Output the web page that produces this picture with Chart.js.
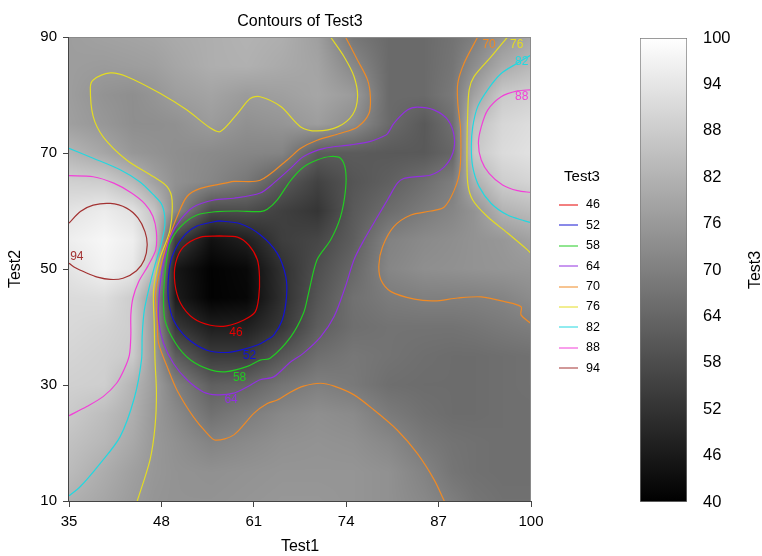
<!DOCTYPE html>
<html>
<head>
<meta charset="utf-8">
<title>Contours of Test3</title>
<script src="https://cdn.jsdelivr.net/npm/chart.js@4.4.1/dist/chart.umd.min.js"></script>
<style>
  html, body { margin: 0; padding: 0; background: #fff; }
  #wrap { position: relative; width: 762px; height: 556px; }
  #mainBox { position: absolute; left: 0; top: 0; width: 640px; height: 556px; }
  #barBox { position: absolute; left: 640px; top: 0; width: 122px; height: 556px; }
</style>
</head>
<body>
<div id="wrap">
  <div id="mainBox"><canvas id="contourChart"></canvas></div>
  <div id="barBox"><canvas id="scaleChart"></canvas></div>
</div>
<script>
// grid of Test3 (rows go from Test2 = 90 down to 10)
const gridX = [35, 40, 44, 47, 50, 55, 60, 65, 70, 75, 80, 85, 89, 92, 96, 100];
const gridY = [90, 85, 80, 75, 70, 65, 60, 55, 50, 45, 40, 35, 30, 25, 20, 15, 10];
const test3Grid = [
  [77, 78, 78.5, 79, 80, 81, 82, 81, 77.5, 68, 65, 65, 67, 69.5, 75, 79],
  [77, 76.5, 77, 77.5, 79, 81, 81.5, 80, 78.5, 72, 65, 65, 67.5, 73, 80, 83.5],
  [77, 74.5, 73.5, 75, 77, 78.5, 76.5, 77.5, 79, 76.5, 65, 65, 68.5, 78, 87.5, 89],
  [77.5, 75.5, 73.5, 73.5, 74, 76.5, 74, 75, 77, 73, 65, 61, 66, 85, 90.5, 92],
  [82.5, 79, 75.5, 74.5, 73.5, 72.5, 71.5, 71, 61.5, 61.5, 61, 61, 64, 87, 91.5, 93],
  [89, 88.2, 83.5, 78, 74, 71.5, 68, 61, 55.5, 60, 62.5, 66, 69.5, 81, 88.3, 90],
  [93.5, 95.5, 93, 86, 72, 57.5, 58, 55, 52.5, 61, 65.5, 69, 71.5, 74.5, 82, 84],
  [96, 98, 96, 88, 55, 44, 47.5, 54.5, 56.5, 62, 70.5, 72.5, 73.5, 74.5, 75.5, 78],
  [93.5, 97, 94.5, 84, 45.5, 40.5, 42, 51.5, 58.5, 64.3, 71.5, 73.5, 74, 74.5, 75, 75.5],
  [91.5, 92, 88, 76, 46.5, 40.5, 41.5, 51, 60, 66.5, 69, 70, 70, 70.2, 71, 73],
  [91, 90, 88.3, 76, 53, 47, 47.5, 53, 62, 66, 67, 67, 67, 67.5, 68.5, 69.5],
  [90, 89, 87.5, 76.5, 62, 54, 54, 60.5, 66, 68, 67, 66, 65.5, 65.5, 66, 66.5],
  [89, 88.5, 82.5, 77, 70, 62.5, 63.5, 67.5, 70, 68.5, 66, 65.5, 65.5, 65.5, 66, 66.5],
  [87.5, 84.5, 81, 76, 72.5, 66.5, 69.2, 72, 73.5, 72.5, 68.8, 66.5, 65.5, 65.5, 66, 66],
  [85.5, 83, 79.5, 75.8, 74, 71, 72.5, 74, 74.5, 74, 72, 68.5, 67, 66.5, 66, 66],
  [84, 80.5, 77.5, 75.5, 74.5, 74, 74.5, 75, 75, 75, 74, 70.8, 67.5, 66.5, 66, 66],
  [81.5, 79, 76.5, 75, 74.5, 74.5, 75, 75.5, 75.5, 75, 74, 72, 69.5, 67.5, 66.5, 66.5]
];

const levels = [46, 52, 58, 64, 70, 76, 82, 88, 94];
const lineColors = ['#e60000', '#1414d2', '#22cc22', '#9230e0', '#ef8a25', '#e4dc22', '#22d8e0', '#f23fd8', '#a33232'];

// contour lines as [Test1, Test2]; null separates pieces
const c46 = [[56.1,55.7],[58.7,55.5],[60.3,54.1],[61.5,51.6],[61.8,48.7],[61.7,45.2],[61.2,42.6],[59.6,41.2],[57.2,40.2],[54.9,40.3],[52.5,41.5],[50.7,44.1],[49.9,47.5],[50.0,51.0],[51.1,53.8],[53.5,55.5],[56.1,55.7]];
const c52 = [[56.1,58.3],[59.1,57.8],[61.9,55.9],[64.3,52.7],[65.5,48.7],[65.6,45.2],[65.0,41.2],[63.8,38.6],[62.6,37.6],[61.5,36.9],[59.1,36.0],[57.2,35.6],[54.4,36.0],[51.6,38.1],[49.7,41.2],[49.0,44.7],[49.0,48.7],[49.5,52.1],[50.9,55.3],[53.0,57.4],[56.1,58.3]];
const c58 = [[48.6,50.4],[49.2,54.4],[50.7,57.3],[53.0,59.3],[55.8,59.9],[58.7,60.0],[61.9,59.9],[62.9,60.3],[64.3,61.9],[66.2,65.3],[68.0,67.6],[69.9,68.8],[71.8,69.4],[73.2,69.1],[73.9,67.1],[73.9,63.6],[73.2,59.0],[71.8,55.0],[69.9,51.6],[68.7,45.8],[68.0,42.4],[66.2,38.3],[63.3,34.6],[61.9,34.3],[60.1,33.2],[57.2,32.3],[54.9,32.6],[52.1,34.3],[50.0,37.2],[48.5,41.2],[48.3,45.8],[48.6,50.4]];
const c64 = [[48.4,51.6],[49.3,55.6],[50.7,58.5],[52.5,60.7],[55.4,61.9],[58.2,62.2],[61.9,63.1],[63.8,64.8],[66.2,67.4],[68.0,69.4],[70.9,70.8],[74.6,71.4],[77.4,72.0],[79.1,72.8],[79.8,73.3],[80.7,75.1],[82.6,77.4],[84.0,77.9],[86.4,77.4],[88.3,75.7],[89.2,72.8],[89.0,70.0],[87.8,67.6],[85.9,66.2],[83.6,65.9],[82.1,65.6],[81.2,64.8],[79.8,61.9],[78.4,59.0],[76.5,55.0],[75.1,51.6],[73.9,47.0],[72.3,41.8],[70.4,38.3],[68.0,35.5],[66.2,34.0],[63.8,31.4],[61.9,30.9],[60.1,29.7],[58.2,28.6],[55.8,28.3],[53.9,28.8],[51.6,30.9],[49.7,33.7],[48.3,37.2],[47.6,41.2],[47.7,45.8],[48.1,49.8],[48.4,51.6]];
const c70 = [[73.9,90],[75.6,86.0],[77.0,82.6],[77.4,79.7],[77.2,76.8],[75.6,74.5],[73.2,73.4],[69.9,72.2],[67.6,70.8],[65.7,68.8],[61.9,65.3],[58.2,65.1],[57.0,64.8],[53.5,63.9],[51.6,62.5],[50.2,59.0],[48.8,54.4],[48.0,51.0],[47.2,45.8],[47.4,41.2],[47.6,37.2],[48.8,33.2],[50.2,29.1],[52.5,24.5],[54.4,21.7],[55.6,20.5],[58.2,21.4],[61.0,25.1],[62.9,26.8],[64.3,27.4],[66.2,28.8],[68.0,29.8],[70.4,30.3],[72.3,29.8],[75.1,28.3],[77.9,25.7],[81.2,22.2],[84.0,18.2],[86.4,13.6],[87.8,10],
  null,
  [92.5,90],[90.6,85.5],[89.7,82.0],[89.7,78.6],[90.1,74.0],[90.0,67.1],[89.2,63.6],[87.8,60.7],[85.9,60.0],[83.1,59.3],[80.7,57.3],[79.1,53.8],[78.6,50.7],[78.9,48.1],[80.3,46.1],[83.6,44.8],[86.4,44.5],[89.7,45.0],[93.0,45.2],[96.2,44.4],[98.6,43.5],[98.6,42.1],[100,40.6]];
const c76 = [[71.8,90],[73.7,86.6],[75.1,83.2],[75.6,79.7],[74.9,76.6],[72.8,74.5],[69.9,73.8],[67.6,74.5],[64.8,78.0],[61.9,79.7],[60.5,79.4],[58.7,76.8],[56.3,73.7],[54.9,74.3],[51.6,77.4],[47.8,80.3],[43.1,83.2],[40.8,83.8],[38.4,82.6],[38.0,81.2],[38.4,76.3],[39.8,72.8],[43.1,68.8],[46.9,65.9],[48.8,64.2],[49.5,61.9],[49.2,56.7],[47.7,51.5],[46.9,46.4],[47.0,40.3],[47.1,34.3],[47.3,28.6],[47.1,22.8],[46.4,17.1],[44.6,10],
  null,
  [96.7,90],[94.4,86.6],[92.0,83.2],[91.3,80.9],[91.1,76.8],[91.0,71.1],[91.1,64.8],[91.8,61.9],[93.9,59.0],[96.7,56.2],[99.5,53.3],[100,52.7]];
const c82 = [[35,70.8],[38.4,69.1],[42.2,67.1],[45.0,65.0],[46.8,62.9],[48.1,61.0],[48.5,57.9],[48.0,54.5],[47.1,50.7],[46.3,46.9],[45.6,42.9],[45.3,38.6],[45.2,34.3],[44.2,27.8],[42.2,21.1],[39.4,16.5],[36.6,12.5],[35,10.9],
  null,
  [100,86.9],[98.1,85.5],[95.8,83.7],[93.9,80.9],[92.5,78.0],[91.8,74.5],[91.6,71.1],[91.8,67.6],[92.7,64.2],[94.4,61.3],[96.7,59.3],[99.1,58.3],[100,58.0]];
const c88 = [[35,66.1],[38.4,65.9],[41.3,64.8],[43.8,63.1],[45.7,61.2],[46.8,59.1],[47.3,56.4],[47.2,53.3],[46.1,50.5],[44.8,47.8],[44.0,45.0],[43.7,42.1],[43.7,38.6],[43.5,35.2],[42.8,32.8],[41.7,30.3],[39.8,28.0],[37.5,26.3],[35,24.7],
  null,
  [100,80.9],[98.1,80.7],[95.8,79.7],[93.9,77.4],[93.0,74.5],[92.6,71.7],[93.0,68.8],[94.1,66.5],[96.0,64.5],[98.1,63.5],[100,63.2]];
const c94 = [[35,57.9],[36.6,59.9],[38.4,61.0],[40.8,61.3],[43.1,60.5],[44.7,58.8],[45.7,56.4],[46.0,54.1],[45.6,51.6],[44.5,49.7],[42.6,48.4],[40.8,48.2],[39.0,48.6],[37.5,49.3],[35.9,50.2],[35,51.0]];

// where each level's value is written on the map
const labelX = [58.5, 60.4, 59.0, 57.8, 94.1, 98.0, 98.7, 98.7, 36.1];
const labelY = [39.0, 35.0, 31.2, 27.4, 88.6, 88.6, 85.7, 79.7, 52.1];

const xTickValues = [35, 48, 61, 74, 87, 100];
const yTickValues = [10, 30, 50, 70, 90];
const barTickValues = [40, 46, 52, 58, 64, 70, 76, 82, 88, 94, 100];
const colorMin = 40, colorMax = 100;

const FONT = "'Liberation Sans', Arial, sans-serif";
Chart.defaults.font.family = FONT;
Chart.defaults.color = '#000';

function bracket(arr, v) {
    for (let i = 0; i < arr.length - 1; i++) {
        const t = (v - arr[i]) / (arr[i + 1] - arr[i]);
        if (t >= 0 && t <= 1) return [i, t];
    }
    return (Math.abs(v - arr[0]) < Math.abs(v - arr[arr.length - 1])) ? [0, 0] : [arr.length - 2, 1];
}

function sampleGrid(x, y) {
    const [i, tx] = bracket(gridX, x);
    const [j, ty] = bracket(gridY, y);
    const a = test3Grid[j][i], b = test3Grid[j][i + 1];
    const c = test3Grid[j + 1][i], d = test3Grid[j + 1][i + 1];
    return (a * (1 - tx) + b * tx) * (1 - ty) + (c * (1 - tx) + d * tx) * ty;
}

// grey shading under the contour lines
const heatPlugin = {
    id: 'heat',
    beforeDatasetsDraw(chart) {
        const { ctx, chartArea: area, scales: { x, y } } = chart;
        const w = Math.round(area.right - area.left);
        const h = Math.round(area.bottom - area.top);
        const off = document.createElement('canvas');
        off.width = w;
        off.height = h;
        const octx = off.getContext('2d');
        const img = octx.createImageData(w, h);
        for (let j = 0; j < h; j++) {
            const vy = y.getValueForPixel(area.top + j + 0.5);
            for (let i = 0; i < w; i++) {
                const vx = x.getValueForPixel(area.left + i + 0.5);
                const v = sampleGrid(vx, vy);
                let g = Math.round((v - colorMin) / (colorMax - colorMin) * 255);
                g = Math.max(0, Math.min(255, g));
                const k = (j * w + i) * 4;
                img.data[k] = g;
                img.data[k + 1] = g;
                img.data[k + 2] = g;
                img.data[k + 3] = 255;
            }
        }
        octx.putImageData(img, 0, 0);
        ctx.drawImage(off, area.left, area.top);
    }
};

// frame, level labels and the legend
const decorPlugin = {
    id: 'decor',
    afterDatasetsDraw(chart) {
        const { ctx, chartArea: a, scales: { x, y } } = chart;
        ctx.save();
        ctx.font = '12px ' + FONT;
        ctx.textAlign = 'center';
        ctx.textBaseline = 'middle';
        levels.forEach((lv, i) => {
            ctx.fillStyle = lineColors[i];
            ctx.fillText(String(lv), x.getPixelForValue(labelX[i]), y.getPixelForValue(labelY[i]));
        });
        ctx.lineWidth = 1;
        ctx.strokeStyle = '#8a8a8a';
        ctx.beginPath();
        ctx.moveTo(a.left, a.top + 0.5);
        ctx.lineTo(a.right, a.top + 0.5);
        ctx.moveTo(a.right - 0.5, a.top);
        ctx.lineTo(a.right - 0.5, a.bottom);
        ctx.stroke();
        ctx.strokeStyle = '#444';
        ctx.beginPath();
        ctx.moveTo(a.left - 0.5, a.top);
        ctx.lineTo(a.left - 0.5, a.bottom + 0.5);
        ctx.lineTo(a.right, a.bottom + 0.5);
        ctx.stroke();
        ctx.restore();
    },
    afterDraw(chart) {
        const { ctx } = chart;
        ctx.save();
        ctx.fillStyle = '#000';
        ctx.font = '15px ' + FONT;
        ctx.textAlign = 'center';
        ctx.textBaseline = 'middle';
        ctx.fillText('Test3', 582, 177);
        ctx.font = '12.5px ' + FONT;
        ctx.textAlign = 'left';
        chart.data.datasets.forEach((ds, i) => {
            const ly = 205 + i * 20.4;
            ctx.strokeStyle = ds.borderColor;
            ctx.lineWidth = 1;
            ctx.beginPath();
            ctx.moveTo(559, Math.round(ly));
            ctx.lineTo(578, Math.round(ly));
            ctx.stroke();
            ctx.fillStyle = '#000';
            ctx.fillText(ds.label, 586, ly);
        });
        ctx.restore();
    }
};

const contourSets = [c46, c52, c58, c64, c70, c76, c82, c88, c94];
const datasets = levels.map((lv, i) => ({
    label: String(lv),
    data: contourSets[i].map(p => p ? { x: p[0], y: p[1] } : { x: null, y: null }),
    showLine: true,
    borderColor: lineColors[i],
    backgroundColor: lineColors[i],
    borderWidth: 1.2,
    pointRadius: 0,
    pointHoverRadius: 0,
    tension: 0.3,
    fill: false
}));

new Chart(document.getElementById('contourChart'), {
    type: 'scatter',
    data: { datasets: datasets },
    options: {
        responsive: true,
        maintainAspectRatio: false,
        animation: false,
        devicePixelRatio: 1,
        layout: { padding: { left: 0, top: 0, right: 109, bottom: 0 } },
        plugins: {
            legend: { display: false },
            tooltip: { enabled: false },
            title: {
                display: true,
                fullSize: false,
                text: 'Contours of Test3',
                color: '#000',
                font: { size: 16, weight: 'normal' },
                padding: { top: 11.5, bottom: 6.3 }
            }
        },
        scales: {
            x: {
                type: 'linear',
                min: 35,
                max: 100,
                afterBuildTicks: s => { s.ticks = xTickValues.map(v => ({ value: v })); },
                afterFit: s => { s.height = 55; },
                grid: { drawOnChartArea: false, drawTicks: true, tickLength: 6, color: '#444' },
                border: { display: false },
                ticks: { color: '#000', font: { size: 15 }, padding: 5.5, maxRotation: 0, autoSkip: false },
                title: { display: true, text: 'Test1', color: '#000', font: { size: 16 }, padding: { top: 0, bottom: 0 } }
            },
            y: {
                type: 'linear',
                min: 10,
                max: 90,
                afterBuildTicks: s => { s.ticks = yTickValues.map(v => ({ value: v })); },
                afterFit: s => { s.width = 69; },
                grid: { drawOnChartArea: false, drawTicks: true, tickLength: 6, color: '#444' },
                border: { display: false },
                ticks: { color: '#000', font: { size: 15 }, padding: 6, autoSkip: false },
                title: { display: true, text: 'Test2', color: '#000', font: { size: 16 }, padding: { top: 6, bottom: 0 } }
            }
        }
    },
    plugins: [heatPlugin, decorPlugin]
});

// colour key on the right
const barTitlePlugin = {
    id: 'barTitle',
    afterDraw(chart) {
        const { ctx } = chart;
        ctx.save();
        ctx.translate(116, 270);
        ctx.rotate(-Math.PI / 2);
        ctx.fillStyle = '#000';
        ctx.font = '16px ' + FONT;
        ctx.textAlign = 'center';
        ctx.textBaseline = 'middle';
        ctx.fillText('Test3', 0, 0);
        ctx.restore();
    }
};

new Chart(document.getElementById('scaleChart'), {
    type: 'bar',
    data: {
        labels: ['Test3'],
        datasets: [{
            data: [[colorMin, colorMax]],
            backgroundColor: c => {
                const { ctx, chartArea } = c.chart;
                if (!chartArea) return '#888';
                const g = ctx.createLinearGradient(0, chartArea.bottom, 0, chartArea.top);
                g.addColorStop(0, '#000');
                g.addColorStop(1, '#fff');
                return g;
            },
            borderColor: '#7a7a7a',
            borderWidth: 1,
            borderSkipped: false,
            barPercentage: 1,
            categoryPercentage: 1
        }]
    },
    options: {
        responsive: true,
        maintainAspectRatio: false,
        animation: false,
        devicePixelRatio: 1,
        layout: { padding: { left: 0, top: 38, right: 0, bottom: 54 } },
        plugins: { legend: { display: false }, tooltip: { enabled: false } },
        scales: {
            x: { display: false },
            y: {
                position: 'right',
                min: colorMin,
                max: colorMax,
                afterBuildTicks: s => { s.ticks = barTickValues.map(v => ({ value: v })); },
                afterFit: s => { s.width = 75; },
                grid: { display: false, drawTicks: false },
                border: { display: false },
                ticks: { color: '#000', font: { size: 16.5 }, padding: 16, autoSkip: false }
            }
        }
    },
    plugins: [barTitlePlugin]
});
</script>
</body>
</html>
